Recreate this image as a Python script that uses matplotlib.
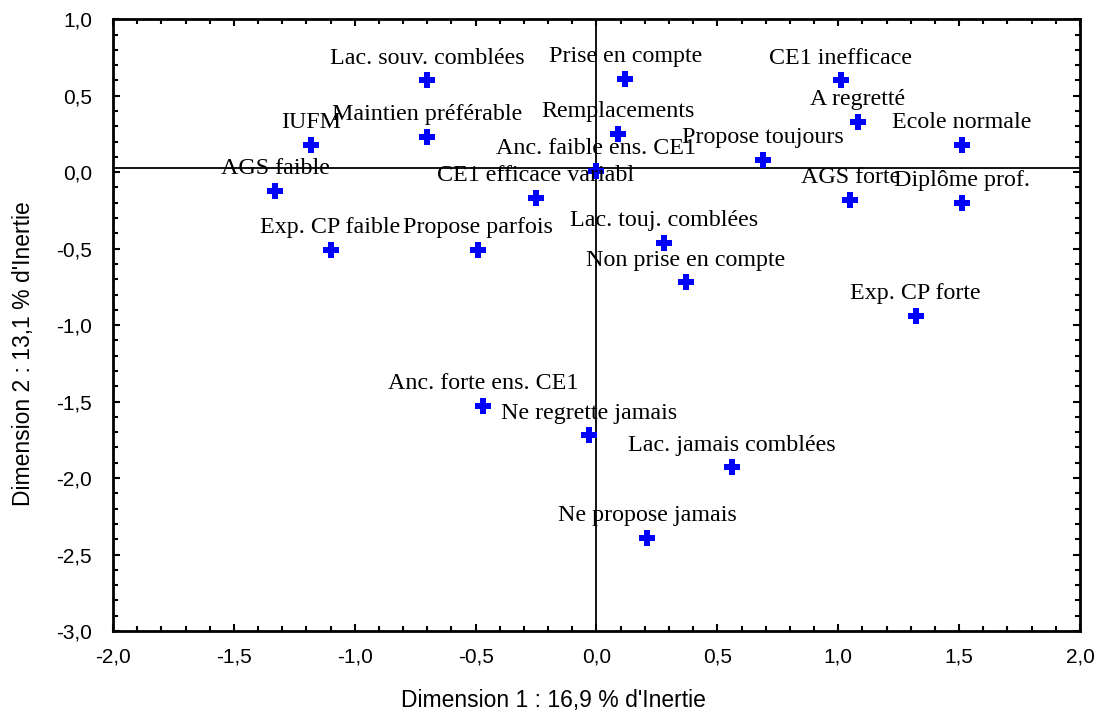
import matplotlib
matplotlib.use("Agg")
import matplotlib.pyplot as plt
from matplotlib.ticker import MultipleLocator, FuncFormatter

# --------------------------------------------------------------------- #
# Data : coordinates of the modalities on the first two dimensions
labels = ["Lac. souv. comblées", "Prise en compte", "CE1 inefficace",
          "IUFM", "Maintien préférable", "Remplacements", "A regretté",
          "Ecole normale", "Anc. faible ens. CE1", "Propose toujours",
          "AGS faible", "CE1 efficace variabl", "AGS forte", "Diplôme prof.",
          "Exp. CP faible", "Propose parfois", "Lac. touj. comblées",
          "Non prise en compte", "Exp. CP forte", "Anc. forte ens. CE1",
          "Ne regrette jamais", "Lac. jamais comblées", "Ne propose jamais"]
dim1 = [-0.70, 0.12, 1.01, -1.18, -0.70, 0.09, 1.08, 1.51, 0.00, 0.69,
        -1.33, -0.25, 1.05, 1.51, -1.10, -0.49, 0.28, 0.37, 1.32, -0.47,
        -0.03, 0.56, 0.21]
dim2 = [0.60, 0.61, 0.60, 0.18, 0.23, 0.25, 0.33, 0.18, 0.01, 0.08,
        -0.12, -0.17, -0.18, -0.20, -0.51, -0.51, -0.46, -0.72, -0.94, -1.53,
        -1.72, -1.93, -2.39]
hline_y = 0.03

# --------------------------------------------------------------------- #
fig = plt.figure(figsize=(10.99, 7.13), dpi=100)
ax = fig.add_axes([0.1028, 0.115, 0.8799, 0.858])

ax.plot(dim1, dim2, linestyle="none", marker="P", markersize=11,
        color="#0000ff", markeredgewidth=0, zorder=3)
for lab, x, y in zip(labels, dim1, dim2):
    ax.annotate(lab, (x, y), xytext=(0, 16), textcoords="offset points",
                ha="center", va="center", fontsize=17.3,
                family="Liberation Serif", color="black", zorder=4)

ax.axhline(hline_y, color="black", lw=1.3, zorder=1)
ax.axvline(0.0, color="black", lw=1.3, zorder=1)

ax.set_xlim(-2, 2)
ax.set_ylim(-3, 1)
ax.xaxis.set_major_locator(MultipleLocator(0.5))
ax.xaxis.set_minor_locator(MultipleLocator(0.1))
ax.yaxis.set_major_locator(MultipleLocator(0.5))
ax.yaxis.set_minor_locator(MultipleLocator(0.1))
fmt = FuncFormatter(lambda v, p: ("%.1f" % v).replace(".", ",").replace("-0,0", "0,0"))
ax.xaxis.set_major_formatter(fmt)
ax.yaxis.set_major_formatter(fmt)
ax.tick_params(which="both", direction="in", top=True, right=True,
               width=1.5, labelsize=15)
ax.tick_params(which="major", length=5)
ax.tick_params(which="minor", length=3.5)
ax.tick_params(axis="x", which="major", pad=12)
ax.tick_params(axis="y", which="major", pad=15)
for lab in ax.get_xticklabels() + ax.get_yticklabels():
    lab.set_family("Liberation Sans")
for s in ax.spines.values():
    s.set_linewidth(2)

ax.set_xlabel("Dimension 1 : 16,9 % d'Inertie", family="Liberation Sans",
              fontsize=16.5)
ax.set_ylabel("Dimension 2 : 13,1 % d'Inertie", family="Liberation Sans",
              fontsize=16.5)
ax.xaxis.set_label_coords(0.455, -0.095)
ax.yaxis.set_label_coords(-0.0805, 0.453)

fig.savefig("out.png", dpi=100)
